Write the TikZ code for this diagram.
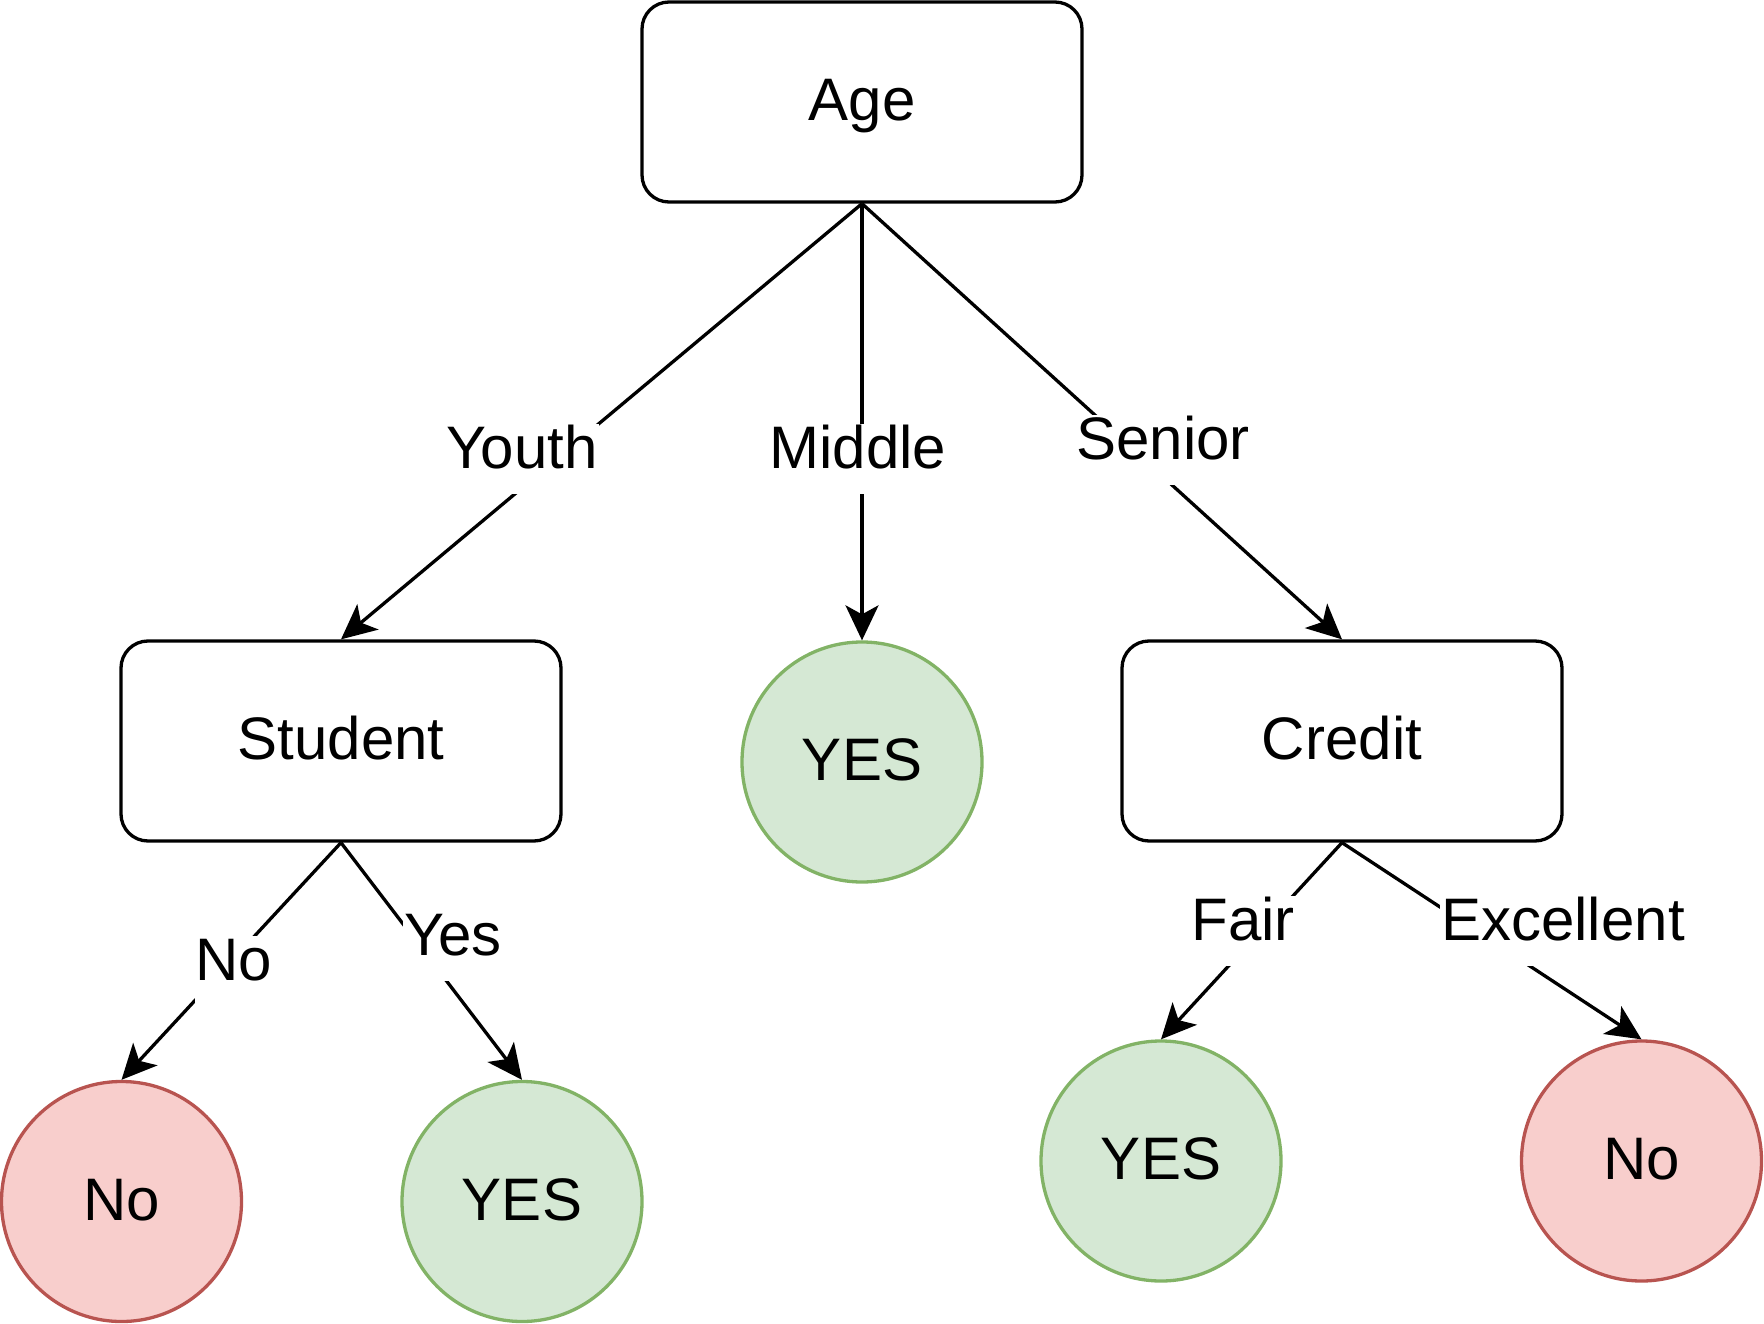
\documentclass[tikz,border=0pt]{standalone}
\usepackage{fontspec}
\setmainfont{Liberation Sans}
\usetikzlibrary{arrows.meta}
\definecolor{gfill}{HTML}{D5E8D4}
\definecolor{gline}{HTML}{82B366}
\definecolor{rfill}{HTML}{F8CECC}
\definecolor{rline}{HTML}{B85450}
\tikzset{
  box/.style={draw=black, line width=3.3pt, rounded corners=27pt, minimum width=440pt, minimum height=200pt, inner sep=0pt, text height=43pt, text depth=6pt, font=\fontsize{60}{72}\selectfont},
  leaf/.style={circle, line width=3.3pt, minimum size=240pt, inner sep=0pt, text height=43pt, text depth=6pt, font=\fontsize{60}{72}\selectfont},
  yesleaf/.style={leaf, draw=gline, fill=gfill},
  noleaf/.style={leaf, draw=rline, fill=rfill},
  arr/.style={line width=3.3pt, -{Stealth[length=35pt, width=33pt, inset=9pt]}},
  lbl/.style={fill=white, anchor=base, inner xsep=1pt, inner ysep=0pt, text height=44pt, text depth=26pt, font=\fontsize{60}{72}\selectfont}
}
\begin{document}
\begin{tikzpicture}[x=1pt, y=-1pt]
\useasboundingbox (0,0) rectangle (1764,1324);
\node[box] (age) at (862,102) {Age};
\node[box] (student) at (341,741) {Student};
\node[box] (credit) at (1342,741) {Credit};
\node[yesleaf] (yesmid) at (862,762) {YES};
\node[noleaf] (noleft) at (121.5,1201.5) {No};
\node[yesleaf] (yesleft) at (522,1201.5) {YES};
\node[yesleaf] (yesright) at (1161,1161) {YES};
\node[noleaf] (noright) at (1641.5,1161) {No};

\draw[arr] (age.south) -- (student.north);
\draw[arr] (age.south) -- (yesmid.north);
\draw[arr] (age.south) -- (credit.north);
\draw[arr] (student.south) -- (noleft.north);
\draw[arr] (student.south) -- (yesleft.north);
\draw[arr] (credit.south) -- (yesright.north);
\draw[arr] (credit.south) -- (noright.north);

\node[lbl] (lyouth) at (522,468) {Youth};
\node[lbl] (lmiddle) at (858,468) {Middle};
\node[lbl] (lsenior) at (1163,459) {Senior};
\node[lbl] (lno) at (234,980) {No};
\node[lbl] (lyes) at (453,955) {Yes};
\node[lbl] (lfair) at (1243,940) {Fair};
\node[lbl] (lexc) at (1563,940) {Excellent};
\end{tikzpicture}
\end{document}
